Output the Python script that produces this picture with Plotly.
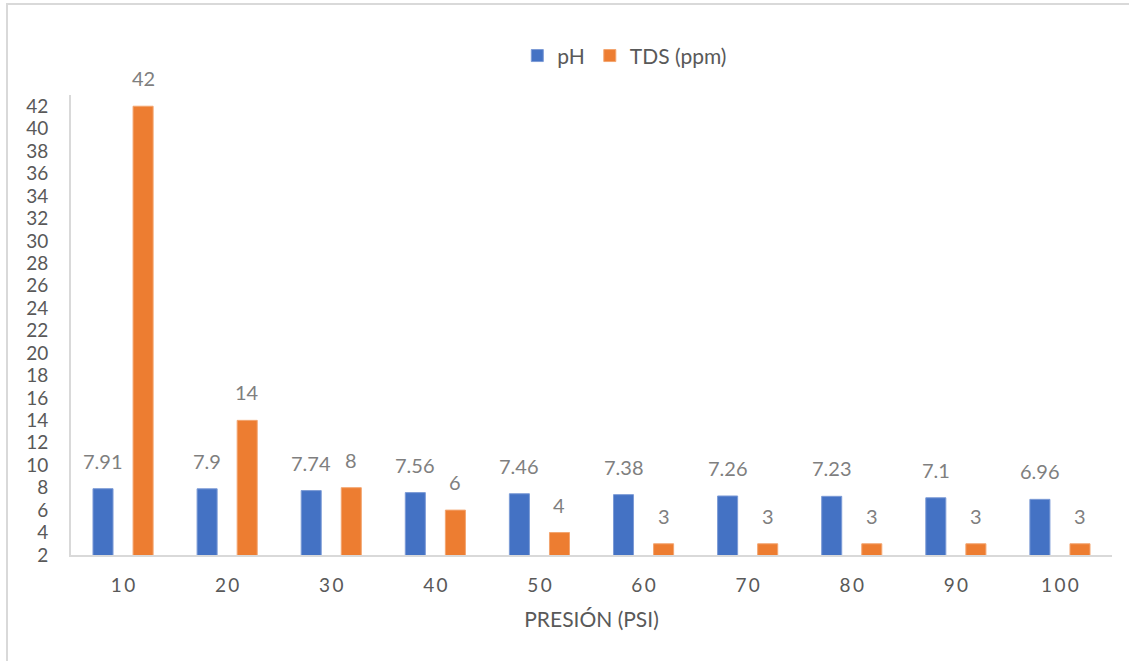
import plotly.graph_objects as go

categories = ["10", "20", "30", "40", "50", "60", "70", "80", "90", "100"]
tick_labels = ["1\u20090", "2\u20090", "3\u20090", "4\u20090", "5\u20090", "6\u20090", "7\u20090", "8\u20090", "9\u20090", "1\u20090\u20090"]
ph_values = [7.91, 7.9, 7.74, 7.56, 7.46, 7.38, 7.26, 7.23, 7.1, 6.96]
tds_values = [42, 14, 8, 6, 4, 3, 3, 3, 3, 3]
series_names = ["pH", "TDS (ppm)"]
y_ticks = list(range(2, 43, 2))

FONT = "Lato"
BLUE = "#4472C4"
ORANGE = "#ED7D31"

fig = go.Figure()
fig.add_trace(go.Bar(x=categories, y=ph_values, name=series_names[0],
                     marker=dict(color=BLUE, line=dict(color="#7C9BD6", width=1))))
fig.add_trace(go.Bar(x=categories, y=tds_values, name=series_names[1],
                     marker=dict(color=ORANGE, line=dict(color="#F3A570", width=1))))

annotations = []
for vals, dx in ((ph_values, -20), (tds_values, 20)):
    for i, v in enumerate(vals):
        annotations.append(dict(x=i, y=v, text=str(v), showarrow=False,
                                xref="x", yref="y", xanchor="center", yanchor="bottom",
                                xshift=dx, yshift=14,
                                font=dict(family=FONT, size=20, color="#7F7F7F")))

fig.update_layout(
    width=1129, height=661,
    margin=dict(l=71, r=17, t=95, b=106, autoexpand=False),
    paper_bgcolor="white", plot_bgcolor="white",
    barmode="group", bargap=0.23, bargroupgap=0.5,
    font=dict(family=FONT, color="#595959"),
    legend=dict(orientation="h", x=0.532, xanchor="center", y=1.085, yanchor="middle",
                font=dict(family=FONT, size=21, color="#595959"), itemwidth=30),
    annotations=annotations,
    shapes=[dict(type="rect", xref="paper", yref="paper",
                 x0=(7 - 71) / 1041, x1=(1140 - 71) / 1041,
                 y0=(555 - 680) / 460, y1=(555 - 4) / 460,
                 line=dict(color="#D9D9D9", width=2), layer="below")],
    showlegend=True,
)
fig.update_xaxes(type="category", range=[-0.5, 9.5], tickvals=categories, ticktext=tick_labels,
                 showline=True, linecolor="#D9D9D9", linewidth=2, showgrid=False, ticks="",
                 ticklabelstandoff=12, tickangle=0,
                 tickfont=dict(family=FONT, size=19, color="#595959"),
                 title=dict(text="PRESIÓN (PSI)", standoff=18,
                            font=dict(family=FONT, size=21, color="#595959")))
fig.update_yaxes(range=[2, 43], tickvals=y_ticks, showline=True,
                 linecolor="#D9D9D9", linewidth=2, showgrid=False, ticks="",
                 zeroline=False, ticklabelstandoff=17,
                 tickfont=dict(family=FONT, size=19, color="#595959"))

fig.write_html("out.html", config={"displayModeBar": False},
               post_script="document.body.style.margin='0';")
